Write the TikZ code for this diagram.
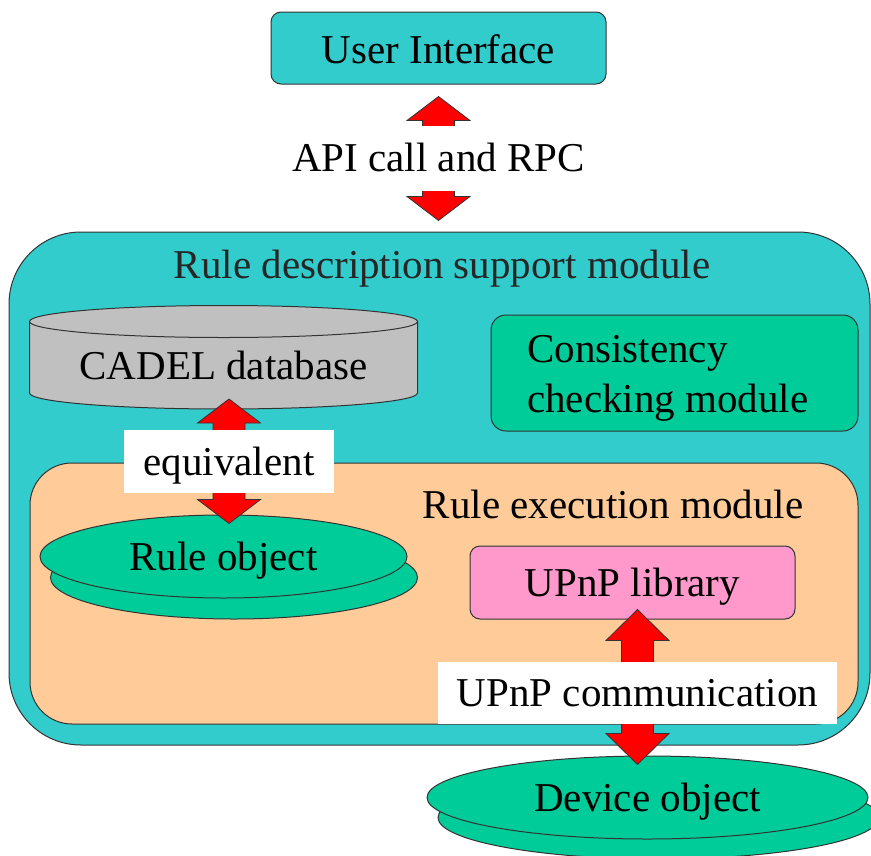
\documentclass[tikz,border=0pt]{standalone}
\usepackage{fontspec}
\setmainfont{Liberation Serif}
\usetikzlibrary{calc,shapes.geometric}
\pgfdeclarelayer{labels}
\pgfsetlayers{main,labels}

\definecolor{cteal}{HTML}{33CCCC}
\definecolor{corange}{HTML}{FFCC99}
\definecolor{cgreen}{HTML}{00CC99}
\definecolor{cpink}{HTML}{FF99CC}
\definecolor{cgray}{HTML}{C0C0C0}
\definecolor{cred}{HTML}{FF0000}
\definecolor{cline}{HTML}{333333}

% vertical double block arrow between two points; #3 = head length
\newcommand\blockarrow[3]{%
  \path[blockarrow] let \p1=(#1), \p2=(#2) in
    (\x1,\y1) -- (\x1+31.5pt,\y1-#3) -- (\x1+16pt,\y1-#3) -- (\x1+16pt,\y2+#3)
    -- (\x1+31.5pt,\y2+#3) -- (\x1,\y2) -- (\x1-31.5pt,\y2+#3) -- (\x1-16pt,\y2+#3)
    -- (\x1-16pt,\y1-#3) -- (\x1-31.5pt,\y1-#3) -- cycle;}

\tikzset{
  box/.style={draw=cline, line width=1pt},
  blockarrow/.style={draw=cline, line width=0.8pt, fill=cred, line join=miter},
  tag/.style={fill=white, anchor=base},
  disc/.style={box, fill=cgreen, ellipse},
}

\begin{document}
\begin{tikzpicture}[x=1pt, y=-1pt,
  every node/.style={font=\fontsize{41pt}{50pt}\selectfont, inner sep=0pt}]
\useasboundingbox (0,0) rectangle (871,855);

% user interface
\node[box, fill=cteal, rounded corners=10pt, minimum width=335pt,
      text height=51pt, text depth=21pt, anchor=base] (ui) at (438.5,63) {User Interface};

% rule description support module
\node[box, fill=cteal, rounded corners=72pt, minimum width=861pt, minimum height=513pt] (rdsm) at (439.5,488.5) {};
\node[anchor=base, text=black!85] (rdsm-title) at (442,278) {Rule description support module};

% CADEL database cylinder
\path[box, fill=cgray] (29.5,321.5) -- (29.5,393)
  arc[start angle=180, end angle=360, x radius=194pt, y radius=16pt] -- (417.5,321.5)
  arc[start angle=0, end angle=180, x radius=194pt, y radius=16pt] -- cycle;
\draw[box] (29.5,321.5) arc[start angle=180, end angle=360, x radius=194pt, y radius=16pt];
\coordinate (dbbase) at (223.5,409);
\node[anchor=base] (db) at (223.5,379) {CADEL database};

% consistency checking module
\node[box, fill=cgreen, rounded corners=15pt, minimum width=367pt, minimum height=116pt] (ccm) at (674.5,373) {};
\node[anchor=west, align=left] (ccm-text) at (527,378) {Consistency\\checking module};

% rule execution module
\node[box, fill=corange, rounded corners=42pt, minimum width=828pt, minimum height=261pt] (rem) at (444,593.5) {};
\node[anchor=base] (rem-title) at (613,518) {Rule execution module};

% rule object
\node[disc, minimum width=367pt, minimum height=83pt] (ruleobj-back) at (234,577.5) {};
\node[disc, minimum width=367pt, minimum height=83pt, text height=27pt, text depth=0pt,
      anchor=base] (ruleobj) at (223.5,570) {Rule object};

% UPnP library
\node[box, fill=cpink, rounded corners=10pt, minimum width=325pt,
      text height=50.7pt, text depth=22.3pt, anchor=base] (upnplib) at (632.5,596.7) {UPnP library};

% device object
\node[disc, minimum width=441pt, minimum height=83pt] (device-back) at (658.5,817.5) {};
\node[disc, minimum width=441pt, minimum height=83pt, text height=28.4pt, text depth=0pt,
      anchor=base] (device) at (647.5,811.7) {Device object};

% connector labels
\begin{pgfonlayer}{labels}
\node[tag, minimum width=310pt, text height=46pt, text depth=19pt] (api) at (438.5,171.7) {API call and RPC};
\node[tag, minimum width=210pt, text height=45pt, text depth=18pt] (equiv) at (229,475) {equivalent};
\node[tag, minimum width=399pt, text height=44pt, text depth=18pt] (comm) at (637.5,706) {UPnP communication};
\end{pgfonlayer}

% connectors
\blockarrow{$(ui.south)+(0,12)$}{$(rdsm.north)+(0,-11)$}{24pt}
\blockarrow{$(dbbase -| equiv.center)+(0,-10)$}{$(ruleobj.north)+(0,9)$}{24pt}
\blockarrow{$(upnplib.south -| comm.center)+(0,-10)$}{$(device.north)+(0,9)$}{31pt}
\end{tikzpicture}
\end{document}
